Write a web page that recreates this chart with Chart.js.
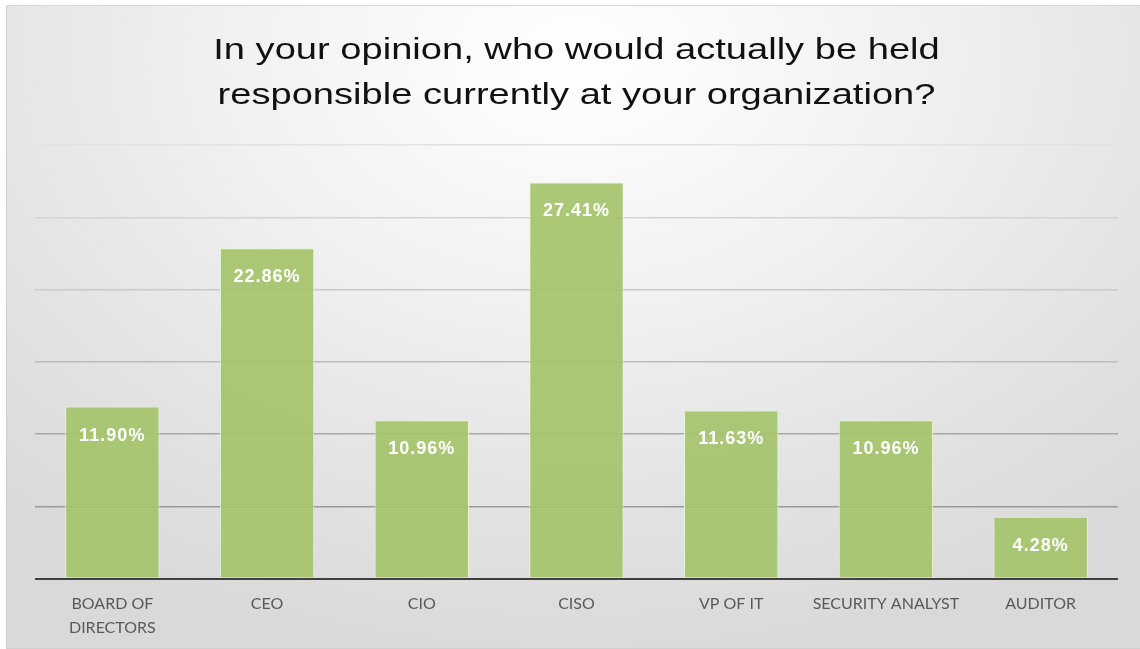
<!DOCTYPE html>
<html>
<head>
<meta charset="utf-8">
<script src="https://cdn.jsdelivr.net/npm/chart.js@4/dist/chart.umd.min.js"></script>
<style>
html,body{margin:0;padding:0;background:#fff;}
#frame{position:absolute;left:6px;top:5px;width:1134px;height:642px;border-left:1px solid #cfcfcf;border-top:1px solid #d6d6d6;border-bottom:1px solid #cfcfcf;
background:radial-gradient(ellipse 75% 95% at 50% 8%, #ffffff 0%, #f3f3f3 35%, #e4e4e4 70%, #d9d9d9 100%);}
#wrap{position:absolute;left:0;top:0;width:1140px;height:649px;}
</style>
</head>
<body>
<div id="frame"></div>
<div id="wrap"><canvas id="c" width="1140" height="649"></canvas></div>
<script>
const titleLines = ["In your opinion, who would actually be held", "responsible currently at your organization?"];
const categories = [["BOARD OF","DIRECTORS"], "CEO", "CIO", "CISO", "VP OF IT", "SECURITY ANALYST", "AUDITOR"];
const values = [11.90, 22.86, 10.96, 27.41, 11.63, 10.96, 4.28];
const yMax = 30;
const yStep = 5;

const gridColors = {0:'#404040',5:'#9a9a9a',10:'#a8a8a8',15:'#bcbcbc',20:'#c9c9c9',25:'#d3d3d3',30:'#e2e2e2'};

const titlePlugin = {
  id: 'stretchedTitle',
  afterDraw(chart) {
    const ctx = chart.ctx;
    const cx = (chart.chartArea.left + chart.chartArea.right) / 2;
    ctx.save();
    ctx.font = '30px "Liberation Sans", Arial, sans-serif';
    ctx.fillStyle = '#111111';
    ctx.textAlign = 'center';
    ctx.textBaseline = 'middle';
    titleLines.forEach((line, i) => {
      ctx.save();
      ctx.translate(cx, 51 + i * 45);
      ctx.scale(1.27, 1);
      ctx.fillText(line, 0, 0);
      ctx.restore();
    });
    ctx.restore();
  }
};

const valueLabels = {
  id: 'valueLabels',
  afterDatasetsDraw(chart) {
    const ctx = chart.ctx;
    const meta = chart.getDatasetMeta(0);
    ctx.save();
    ctx.font = 'bold 18px "Liberation Sans", Arial, sans-serif';
    ctx.letterSpacing = '1px';
    ctx.fillStyle = '#ffffff';
    ctx.textAlign = 'center';
    ctx.textBaseline = 'middle';
    meta.data.forEach((bar, i) => {
      ctx.fillText(values[i].toFixed(2) + '%', bar.x, bar.y + 29);
    });
    ctx.restore();
  }
};

new Chart(document.getElementById('c'), {
  type: 'bar',
  data: {
    labels: categories,
    datasets: [{
      data: values,
      backgroundColor: 'rgba(164,196,108,0.93)',
      borderColor: 'rgba(235,245,220,0.9)',
      borderWidth: {top:1,left:1,right:1,bottom:0},
      categoryPercentage: 1.0,
      barPercentage: 0.61
    }]
  },
  options: {
    responsive: false,
    animation: false,
    layout: { padding: { left: 35, right: 22, top: 145, bottom: -4 } },
    plugins: {
      legend: { display: false },
      tooltip: { enabled: false },
      title: { display: false }
    },
    scales: {
      x: {
        grid: { display: false, drawTicks: false },
        border: { display: false },
        ticks: {
          color: '#595959',
          font: { family: 'Lato, "Open Sans", sans-serif', size: 16, lineHeight: 1.45 },
          padding: 14,
          maxRotation: 0,
          autoSkip: false
        }
      },
      y: {
        min: 0, max: yMax,
        ticks: { display: false, stepSize: yStep },
        border: { display: false },
        grid: {
          drawTicks: false,
          color: (c) => gridColors[c.tick.value] || '#bbbbbb',
          lineWidth: (c) => c.tick.value === 0 ? 2 : 1.5
        }
      }
    }
  },
  plugins: [valueLabels, titlePlugin]
});
</script>
</body>
</html>
